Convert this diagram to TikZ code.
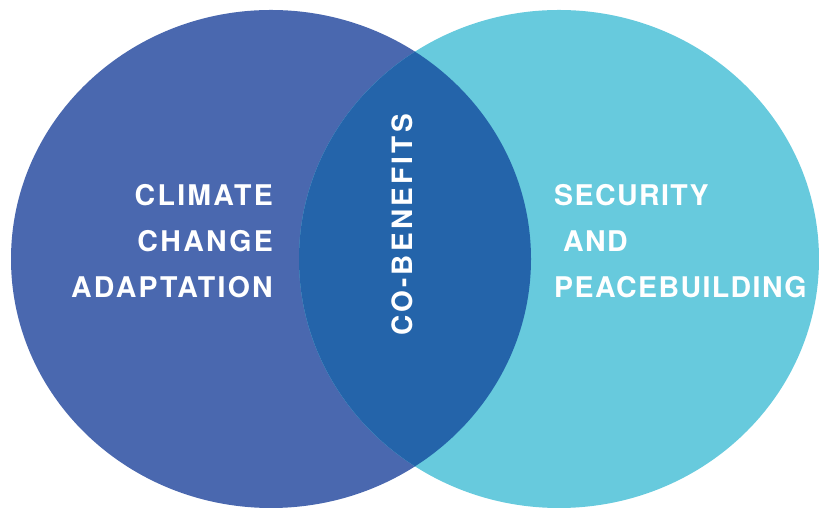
\documentclass[tikz,border=0pt]{standalone}
\usepackage{fontspec}
\newfontfamily\vennfont[LetterSpace=8]{TeX Gyre Heros}
\newfontfamily\peacefont[LetterSpace=5]{TeX Gyre Heros}
\newfontfamily\cobenfont[LetterSpace=11.5]{TeX Gyre Heros}
\definecolor{adaptblue}{RGB}{74,104,175}
\definecolor{peacecyan}{RGB}{103,202,221}
\definecolor{cobenblue}{RGB}{36,100,170}
\tikzset{
  venntext/.style={text=white, inner sep=0pt, font=\vennfont\bfseries\fontsize{28.5}{46}\selectfont}
}

\begin{document}
\begin{tikzpicture}[x=1pt,y=1pt]
\useasboundingbox (0,0) rectangle (819,510);

% the two sets
\fill [adaptblue] (271,251) ellipse [x radius=260, y radius=249];
\fill [peacecyan] (559,251) ellipse [x radius=260, y radius=249];

% overlap
\begin{scope}
\clip (271,251) ellipse [x radius=260, y radius=249];
\fill [cobenblue] (559,251) ellipse [x radius=260, y radius=249];
\end{scope}


% base anchor sits on the last line
\node [venntext, align=right, anchor=base east] (adapt) at (273,212)
  {CLIMATE\\CHANGE\\ADAPTATION};

\node [venntext, font=\peacefont\bfseries\fontsize{28.5}{46}\selectfont, align=left, anchor=base west] (peace) at (554,212)
  {SECURITY\\\hspace*{9pt}AND\\PEACEBUILDING};

\node [venntext, font=\cobenfont\bfseries\fontsize{28}{34}\selectfont, rotate=90] (coben) at (402,285) {CO-BENEFITS};

\end{tikzpicture}
\end{document}
